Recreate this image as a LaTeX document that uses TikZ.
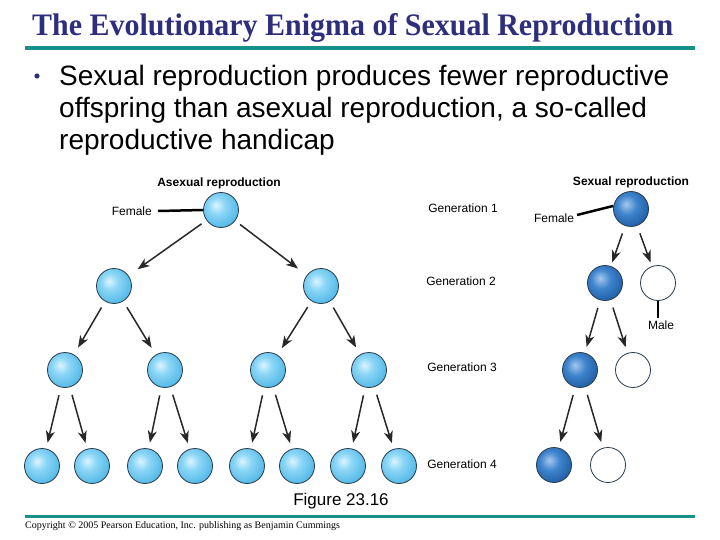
\documentclass[tikz,border=0pt]{standalone}
\usepackage{fontspec}
\setmainfont{Liberation Serif}
\newfontfamily\arial{Liberation Sans}
\usetikzlibrary{arrows.meta}
\definecolor{navy}{RGB}{46,46,125}
\definecolor{teal1}{RGB}{22,145,135}
\definecolor{edgec}{RGB}{40,60,75}
\definecolor{arrc}{RGB}{40,40,40}
\definecolor{lb1}{RGB}{220,245,255}
\definecolor{lb2}{RGB}{140,214,246}
\definecolor{lb3}{RGB}{78,182,230}
\definecolor{db1}{RGB}{165,200,238}
\definecolor{db2}{RGB}{62,132,204}
\definecolor{db3}{RGB}{28,88,160}
\definecolor{wb1}{RGB}{255,255,255}
\definecolor{wb2}{RGB}{240,240,236}
\definecolor{wb3}{RGB}{200,200,195}
\pgfdeclareradialshading{lball}{\pgfpoint{-7bp}{7bp}}{color(0bp)=(lb1); color(12bp)=(lb2); color(32bp)=(lb3); color(90bp)=(lb3)}
\pgfdeclareradialshading{dball}{\pgfpoint{-7bp}{7bp}}{color(0bp)=(db1); color(14bp)=(db2); color(34bp)=(db3); color(90bp)=(db3)}
\pgfdeclareradialshading{wball}{\pgfpoint{-8bp}{8bp}}{color(0bp)=(wb1); color(28bp)=(wb1); color(44bp)=(wb2); color(60bp)=(wb3); color(90bp)=(wb3)}
\begin{document}
\begin{tikzpicture}[x=1pt,y=-1pt,
  ball/.style={circle, minimum size=35pt, inner sep=0pt, draw=edgec, line width=0.8pt},
  lball/.style={ball, shading=lball},
  dball/.style={ball, shading=dball},
  wball/.style={ball, shading=wball},
  arr/.style={-{Stealth[length=12pt,width=9pt,inset=3.5pt]}, line width=1.5pt, draw=arrc},
  pointer/.style={line width=2.5pt, draw=black},
  lbl/.style={font=\arial\fontsize{12pt}{14pt}\selectfont, inner sep=0pt},
  blbl/.style={font=\arial\bfseries\fontsize{12pt}{14pt}\selectfont, inner sep=0pt},
  bul/.style={font=\arial\fontsize{28pt}{32pt}\selectfont, inner sep=0pt, anchor=base west}
]
\useasboundingbox (0,0) rectangle (720,540);
\fill[white] (0,0) rectangle (720,540);
% title
\node[anchor=base west, inner sep=0pt, text=navy] (title) at (32,36)
  {\resizebox{641pt}{22pt}{\bfseries The Evolutionary Enigma of Sexual Reproduction}};
\fill[teal1] (25,46) rectangle (695,50);
% bullet
\fill[navy] (37,76) circle (2.6);
\node[bul] (b1) at (59,86) {Sexual reproduction produces fewer reproductive};
\node[bul] (b2) at (59,118) {offspring than asexual reproduction, a so-called};
\node[bul] (b3) at (59,150) {reproductive handicap};
% headings
\node[blbl] (ah) at (219,183) {Asexual reproduction};
\node[blbl] (sh) at (631,182) {Sexual reproduction};
% generation labels
\node[lbl] (g1) at (463,208) {Generation 1};
\node[lbl] (g2) at (461,281) {Generation 2};
\node[lbl] (g3) at (462,367) {Generation 3};
\node[lbl] (g4) at (462,464) {Generation 4};
% asexual tree
\node[lball] (a1) at (221,210) {};
\node[lball] (a21) at (114,286) {};
\node[lball] (a22) at (321,286) {};
\node[lball] (a31) at (65,370) {};
\node[lball] (a32) at (165,370) {};
\node[lball] (a33) at (268,370) {};
\node[lball] (a34) at (369,370) {};
\foreach \i/\x in {1/42,2/92,3/145,4/195,5/247,6/297,7/348,8/399}
  \node[lball] (a4\i) at (\x,466) {};
\draw[arr, shorten <=6pt, shorten >=11pt] (a1) -- (a21);
\draw[arr, shorten <=6pt, shorten >=11pt] (a1) -- (a22);
\foreach \p/\c in {a21/a31,a21/a32,a22/a33,a22/a34}
  \draw[arr, shorten <=7pt, shorten >=8pt] (\p) -- (\c);
\foreach \p/\c in {a31/a41,a31/a42,a32/a43,a32/a44,a33/a45,a33/a46,a34/a47,a34/a48}
  \draw[arr, shorten <=8pt, shorten >=6pt] (\p) -- (\c);
\node[lbl, anchor=east] (af) at (152,211) {Female};
\coordinate (afl) at (158,211);
\draw[pointer] (afl) -- (a1.west);
% sexual tree
\node[dball] (s1) at (631,209) {};
\node[dball] (s2f) at (605,283) {};
\node[wball] (s2m) at (658,283) {};
\node[dball] (s3f) at (580,370) {};
\node[wball] (s3m) at (633,370) {};
\node[dball] (s4f) at (554,465) {};
\node[wball] (s4m) at (608,465) {};
\draw[arr, shorten <=8pt, shorten >=4pt] (s1) -- (s2f);
\draw[arr, shorten <=8pt, shorten >=4pt] (s1) -- (s2m);
\draw[arr, shorten <=8pt, shorten >=6pt] (s2f) -- (s3f);
\draw[arr, shorten <=8pt, shorten >=6pt] (s2f) -- (s3m);
\draw[arr, shorten <=8pt, shorten >=6pt] (s3f) -- (s4f);
\draw[arr, shorten <=8pt, shorten >=6pt] (s3f) -- (s4m);
\node[lbl] (sf) at (554,218) {Female};
\coordinate (sfl) at (577,215);
\draw[pointer] (sfl) -- (s1.170);
\coordinate (sml) at (658,318);
\draw[pointer] (s2m.south) -- (sml);
\node[lbl] (sm) at (661,325) {Male};
% footer
\node[font=\arial\fontsize{17pt}{20pt}\selectfont, anchor=base, inner sep=0pt] (fig) at (341,505) {Figure 23.16};
\fill[teal1] (25,515) rectangle (695,518);
\node[anchor=base west, inner sep=0pt, font=\fontsize{10pt}{12pt}\selectfont] (copy) at (25,528)
  {Copyright \textcopyright{} 2005 Pearson Education, Inc. publishing as Benjamin Cummings};
\end{tikzpicture}
\end{document}
